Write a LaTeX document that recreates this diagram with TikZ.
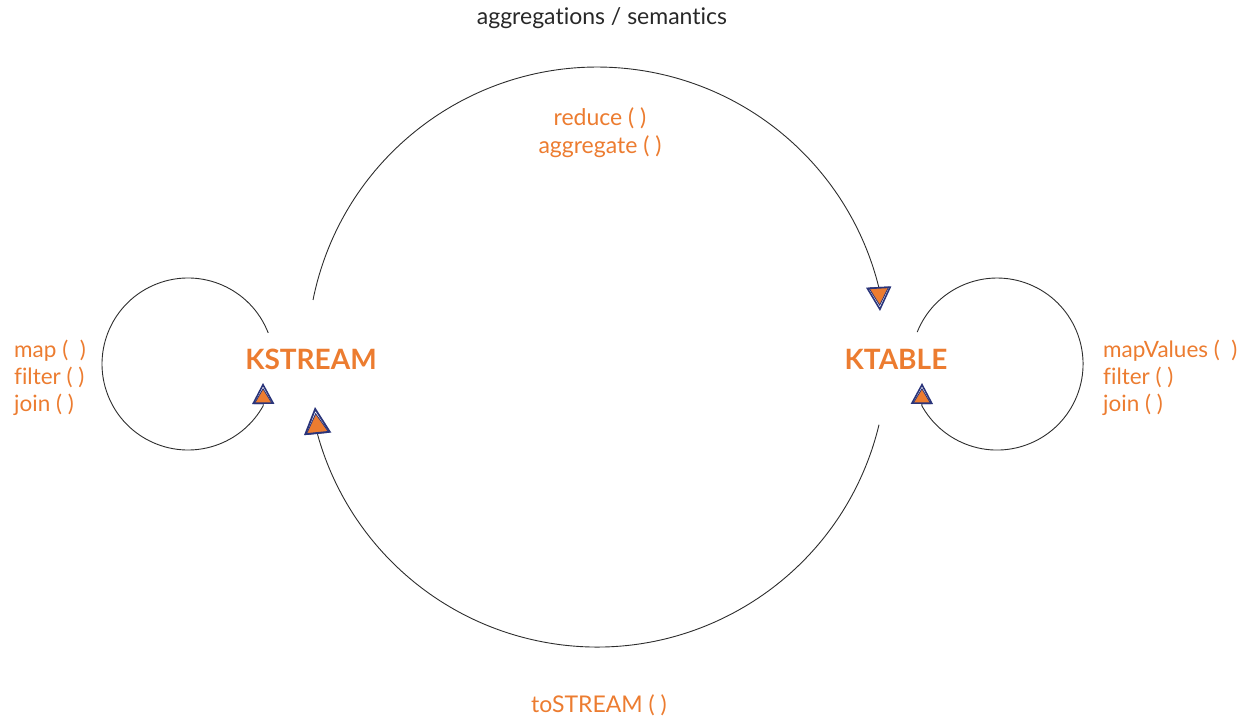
\documentclass[tikz,border=0pt]{standalone}
\usepackage{fontspec}
\setmainfont{Lato}[Ligatures=NoCommon]
\usetikzlibrary{arrows.meta}
\definecolor{korange}{RGB}{236,124,48}
\definecolor{knavy}{RGB}{42,52,122}
\definecolor{kgray}{RGB}{40,40,40}
\definecolor{kline}{RGB}{45,45,45}
\begin{document}
\begin{tikzpicture}[x=1pt,y=-1pt,
  conn/.style={draw=kline, line width=0.9pt},
  tipS/.style={-{Triangle[length=16pt,width=19pt,color=knavy,fill=korange,line width=0.8pt,sep=-16pt]Triangle[open,length=21pt,width=22pt,color=knavy,line width=1.6pt]}},
  tipM/.style={-{Triangle[length=19pt,width=21pt,color=knavy,fill=korange,line width=0.8pt,sep=-19pt]Triangle[open,length=24pt,width=25pt,color=knavy,line width=1.6pt]}},
  tipL/.style={-{Triangle[length=21pt,width=24pt,color=knavy,fill=korange,line width=0.8pt,sep=-21pt]Triangle[open,length=27pt,width=27pt,color=knavy,line width=1.8pt]}},
  big/.style={text=korange, font=\fontsize{28}{32}\selectfont\bfseries, inner sep=0pt},
  op/.style={text=korange, font=\fontsize{22.5}{27}\selectfont, inner sep=0pt, align=left},
  opc/.style={text=korange, font=\fontsize{23}{28}\selectfont, inner sep=0pt, align=center},
  ttl/.style={text=kgray, font=\fontsize{23}{26}\selectfont, inner sep=0pt}]
\useasboundingbox (0,0) rectangle (1250,719);

% nodes
\node[big] (ks) at (311,359) {KSTREAM};
\node[big] (kt) at (896,359) {KTABLE};
\node[ttl] (title) at (602,18) {aggregations / semantics};
\node[opc] (agg) at (600,133) {reduce ( )\\aggregate ( )};
\node[opc] (tostream) at (599,705) {toSTREAM ( )};
\node[op, anchor=west] (lops) at (14,378) {map (\ \ )\\filter ( )\\join ( )};
\node[op, anchor=west] (rops) at (1103,378) {mapValues (\ \ )\\filter ( )\\join ( )};

% connector end points
\coordinate (bigA) at (313,300);
\coordinate (ktIn) at (880,311);
\coordinate (bigB) at (879,424.7);
\coordinate (ksIn2) at (315,407);
\coordinate (lsA) at (268.2,332.9);
\coordinate (ksIn1) at (263,383);
\coordinate (rsA) at (917.2,332.1);
\coordinate (ktIn2) at (922,383);

% KSTREAM -> KTABLE (aggregations)
\draw[conn, tipM] (bigA) arc[start angle=191.35, end angle=346, radius=290] -- (ktIn);
% KTABLE -> KSTREAM (toSTREAM)
\draw[conn, tipL] (bigB) arc[start angle=13.5, end angle=164.4, radius=290] -- (ksIn2);
% KSTREAM self loop
\draw[conn, tipS] (lsA) arc[start angle=338.8, end angle=29, radius=86] -- (ksIn1);
% KTABLE self loop
\draw[conn, tipS] (rsA) arc[start angle=201.8, end angle=511, radius=86] -- (ktIn2);
\end{tikzpicture}
\end{document}
